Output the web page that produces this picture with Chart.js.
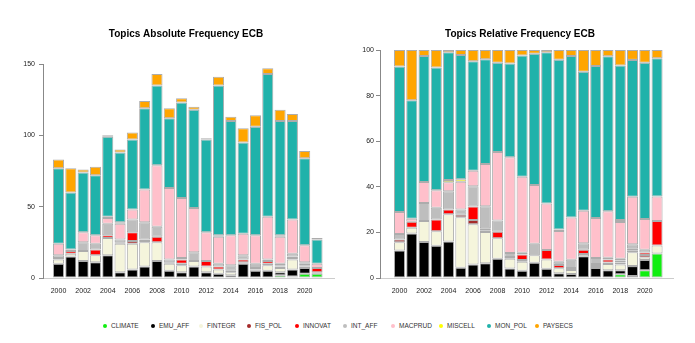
<!DOCTYPE html>
<html>
<head>
<meta charset="utf-8">
<script src="https://cdn.jsdelivr.net/npm/chart.js@4"></script>
<style>
  body { margin: 0; background: #fff; }
  #wrap { position: relative; width: 695px; height: 343px; font-family: "Liberation Sans", Arial, sans-serif; }
  #absWrap { position: absolute; left: 0; top: 0; width: 372px; height: 300px; }
  #relWrap { position: absolute; left: 347px; top: 0; width: 346px; height: 300px; }
  #legend { position: absolute; left: 103px; top: 322px; display: flex; }
  .item { width: 48px; font-size: 6.5px; color: #333; display: flex; align-items: center; white-space: nowrap; }
  .dot { width: 4px; height: 4px; border-radius: 50%; margin-right: 4px; flex: none; }
</style>
</head>
<body>
<div id="wrap">
  <div id="absWrap"><canvas id="absChart"></canvas></div>
  <div id="relWrap"><canvas id="relChart"></canvas></div>
  <div id="legend"></div>
</div>
<script>
// Years and x tick labels
const years = [2000, 2001, 2002, 2003, 2004, 2005, 2006, 2007, 2008, 2009, 2010,
               2011, 2012, 2013, 2014, 2015, 2016, 2017, 2018, 2019, 2020, 2021];
const tickYears = [2000, 2002, 2004, 2006, 2008, 2010, 2012, 2014, 2016, 2018, 2020];

// Topic counts per year
const topics = ['CLIMATE', 'EMU_AFF', 'FINTEGR', 'FIS_POL', 'INNOVAT', 'INT_AFF', 'MACPRUD', 'MISCELL', 'MON_POL', 'PAYSECS'];
const climate = [0, 0, 0, 0, 0, 0, 0, 0, 0, 0, 0, 0, 0, 0, 0, 0, 0, 0, 2, 1, 3, 3];
const emuAff  = [10, 15, 12, 11, 16, 4, 6, 8, 12, 5, 4, 8, 4, 3, 2, 10, 5, 5, 2, 5, 4, 0];
const fintegr = [3, 2, 7, 5, 12, 20, 18, 17, 13, 5, 5, 4, 4, 3, 2, 1, 0, 4, 3, 7, 1, 1];
const fisPol  = [1, 0, 0, 0, 0, 1, 2, 1, 0, 1, 1, 0, 0, 0, 0, 0, 1, 1, 1, 1, 1, 0];
const innovat = [0, 2, 0, 4, 2, 0, 6, 1, 4, 0, 3, 0, 4, 2, 1, 2, 1, 2, 1, 1, 1, 3];
const intAff  = [2, 0, 6, 4, 8, 2, 9, 12, 7, 2, 1, 6, 0, 2, 4, 3, 3, 1, 1, 2, 1, 0];
const macprud = [8, 1, 7, 6, 4, 11, 7, 23, 43, 50, 42, 31, 20, 19, 21, 15, 20, 30, 19, 24, 12, 3];
const miscell = [0, 0, 0, 0, 1, 1, 0, 0, 0, 0, 0, 0, 0, 1, 0, 0, 0, 0, 1, 0, 0, 0];
const monPol  = [53, 40, 42, 42, 56, 49, 49, 57, 56, 49, 67, 69, 65, 105, 80, 64, 76, 100, 80, 69, 61, 17];
const paysecs = [6, 17, 2, 6, 1, 2, 5, 5, 8, 7, 3, 2, 1, 6, 3, 10, 8, 4, 8, 5, 5, 1];

const series = [climate, emuAff, fintegr, fisPol, innovat, intAff, macprud, miscell, monPol, paysecs];
const colors = ['#11ee11', '#000000', '#f5f5dc', '#a52a2a', '#ff0000', '#bebebe', '#ffc0cb', '#ffff00', '#20b2aa', '#ffa500'];

const FONT = '"Liberation Sans", Arial, sans-serif';

// yearly totals, used for the relative chart
const totals = years.map((_, i) => series.reduce((s, arr) => s + arr[i], 0));

function buildDatasets(relative) {
    return topics.map((name, k) => ({
        label: name,
        data: years.map((y, i) => {
            const v = series[k][i];
            if (!v) return { x: y, y: null };
            return { x: y, y: relative ? v / totals[i] * 100 : v };
        }),
        backgroundColor: colors[k],
        borderColor: 'rgba(70, 70, 70, 0.45)',
        borderWidth: 1,
        borderSkipped: false,
        categoryPercentage: 1,
        barPercentage: 0.9
    }));
}

function makeChart(id, cfg) {
    const ctx = document.getElementById(id);
    if (!ctx) return;
    new Chart(ctx.getContext('2d'), {
        type: 'bar',
        data: { datasets: buildDatasets(cfg.relative) },
        options: {
            responsive: true,
            maintainAspectRatio: false,
            animation: false,
            layout: { padding: 0 },
            plugins: {
                legend: { display: false },
                tooltip: { enabled: false },
                title: {
                    display: true,
                    text: cfg.title,
                    color: '#000',
                    font: { family: FONT, size: 10, weight: 'bold' },
                    padding: { top: 28, bottom: cfg.titleBottom }
                }
            },
            scales: {
                x: {
                    type: 'linear',
                    stacked: true,
                    offset: false,
                    min: cfg.xMin,
                    max: cfg.xMax,
                    grid: { display: false },
                    border: { display: true, color: '#cccccc', width: 1 },
                    afterBuildTicks: scale => { scale.ticks = tickYears.map(v => ({ value: v })); },
                    afterFit: scale => { scale.height = 22; },
                    ticks: {
                        color: '#222',
                        font: { family: FONT, size: 7 },
                        padding: 1,
                        maxRotation: 0,
                        autoSkip: false,
                        callback: v => String(v)
                    }
                },
                y: {
                    stacked: true,
                    min: 0,
                    max: cfg.yMax,
                    grid: { drawOnChartArea: false, drawTicks: true, tickLength: 4, color: '#888' },
                    border: { display: true, color: '#888', width: 1 },
                    afterFit: scale => { scale.width = cfg.yWidth; },
                    ticks: {
                        stepSize: cfg.yStep,
                        color: '#222',
                        font: { family: FONT, size: 7 },
                        padding: cfg.yPad
                    }
                },
                // empty right margin so the title centres over the plot like the original
                margin: {
                    position: 'right',
                    grid: { display: false },
                    border: { display: false },
                    ticks: { display: false },
                    afterFit: scale => { scale.width = cfg.rightGap; }
                }
            }
        }
    });
}

// Legend shared by both panels
function buildLegend() {
    const box = document.getElementById('legend');
    topics.forEach((name, k) => {
        const item = document.createElement('div');
        item.className = 'item';
        item.innerHTML = `<span class="dot" style="background:${colors[k]}"></span><span>${name}</span>`;
        box.appendChild(item);
    });
}

makeChart('absChart', {
    relative: false, title: 'Topics Absolute Frequency ECB',
    yMax: 150, yStep: 50, yWidth: 43, yPad: 4, rightGap: 38,
    titleBottom: 24, xMin: 1998.74, xMax: 2022.38
});
makeChart('relChart', {
    relative: true, title: 'Topics Relative Frequency ECB',
    yMax: 100, yStep: 20, yWidth: 33, yPad: 2, rightGap: 20,
    titleBottom: 10, xMin: 1998.41, xMax: 2022.3
});
buildLegend();
</script>
</body>
</html>
